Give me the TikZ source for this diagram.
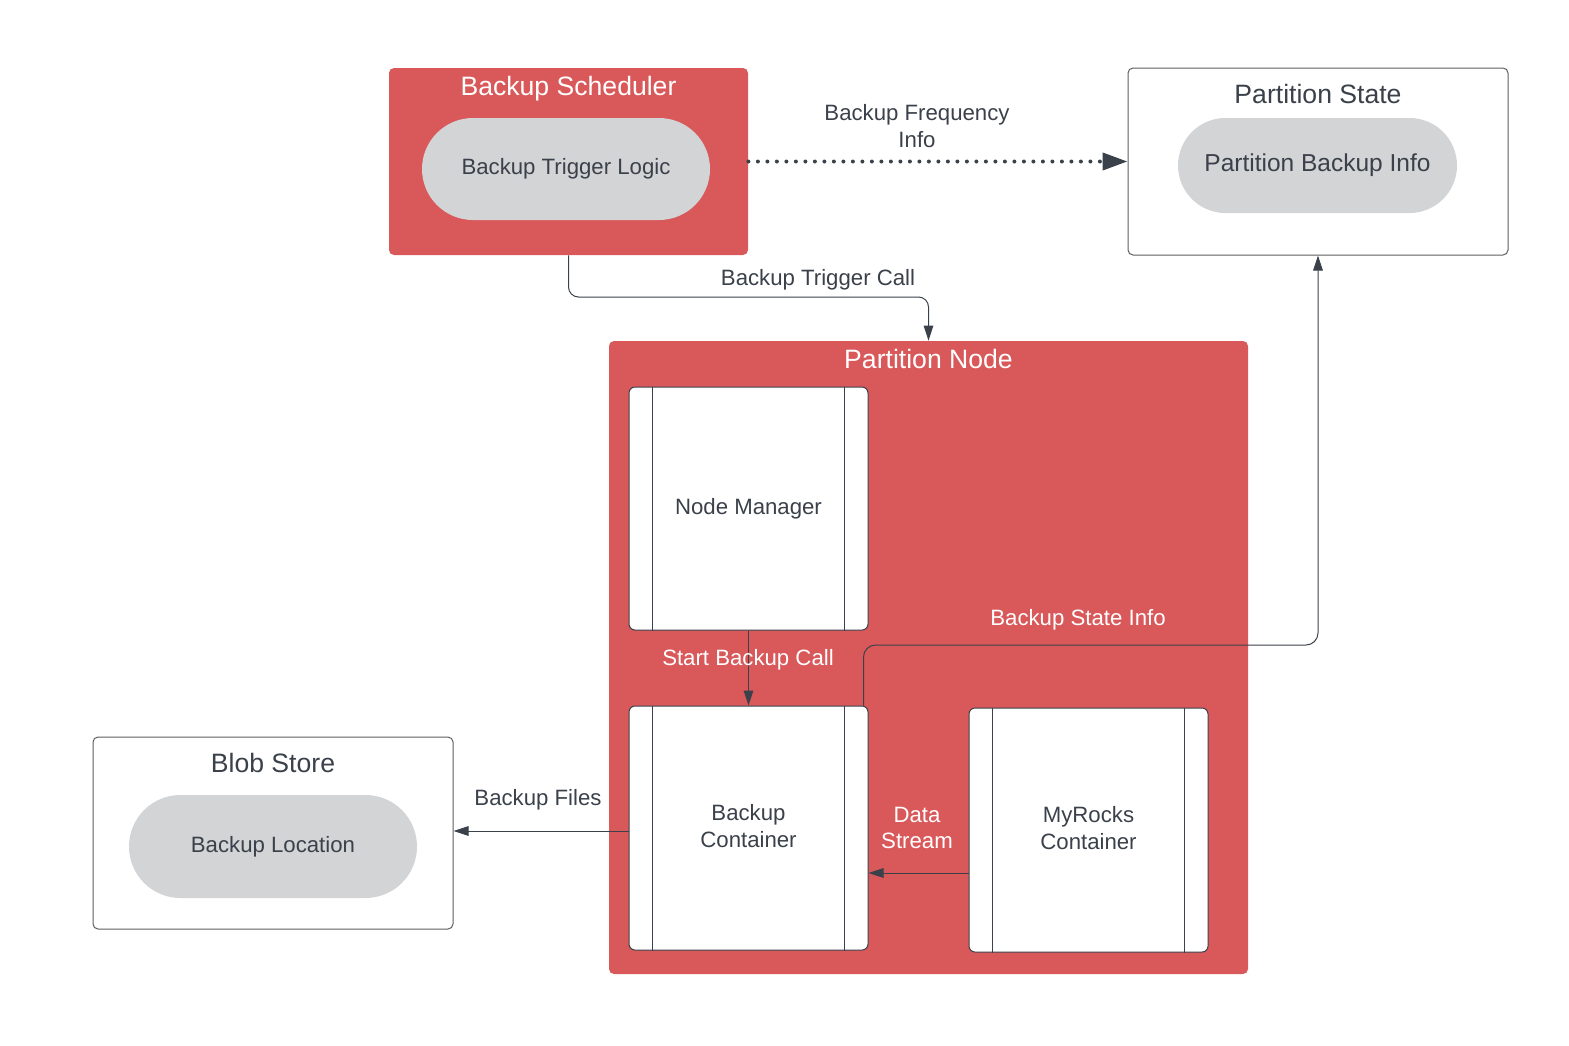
\documentclass[tikz,border=0pt]{standalone}
\usepackage{fontspec}
\setmainfont{Liberation Sans}
\usetikzlibrary{arrows.meta,calc}
\definecolor{lred}{HTML}{D9585A}
\definecolor{pill}{HTML}{D3D4D6}
\definecolor{ink}{HTML}{3A414A}
\definecolor{edge}{HTML}{5E5E5E}
\tikzset{
  redbox/.style={draw=none,fill=lred,rounded corners=2.5pt,inner sep=0pt},
  whitebox/.style={draw=edge,line width=0.5pt,fill=white,rounded corners=2.5pt,inner sep=0pt},
  procbox/.style={draw=ink,line width=0.5pt,fill=white,rounded corners=3pt,inner sep=0pt,
    minimum width=119.5pt,font=\fontsize{11.1pt}{13.3pt}\selectfont,text=ink,align=center},
  pillbox/.style={fill=pill,draw=none,inner sep=0pt,text=ink,align=center},
  titlew/.style={text=white,font=\fontsize{13.3pt}{16pt}\selectfont,inner sep=0pt},
  titled/.style={text=ink,font=\fontsize{13.3pt}{16pt}\selectfont,inner sep=0pt},
  lbl/.style={text=ink,font=\fontsize{11.1pt}{13.4pt}\selectfont,align=center,inner sep=0pt},
  lblw/.style={text=white,font=\fontsize{11.1pt}{13.4pt}\selectfont,align=center,inner sep=0pt},
  conn/.style={draw=ink,line width=0.5pt,-{Triangle[length=7.5pt,width=4.8pt]}},
}
\begin{document}
\begin{tikzpicture}[x=0.5pt,y=-0.5pt]
\useasboundingbox (0,0) rectangle (1569,1045);
% containers
\node[redbox,minimum width=179.5pt,minimum height=93.5pt] (bs) at (568.5,161.5) {};
\node[whitebox,minimum width=190pt,minimum height=93.5pt] (ps) at (1318,161.5) {};
\node[redbox,minimum width=319.5pt,minimum height=316.5pt] (pn) at (928.5,657.5) {};
\node[whitebox,minimum width=180pt,minimum height=96pt] (blob) at (273,833) {};
% titles
\node[titlew] (bst) at (568.5,89) {Backup Scheduler};
\node[titled] (pst) at (1318,94) {Partition State};
\node[titlew] (pnt) at (928.5,359) {Partition Node};
\node[titled] (blt) at (273,763) {Blob Store};
% pills
\node[pillbox,rounded corners=25.5pt,minimum width=144pt,minimum height=51pt,
  font=\fontsize{11.1pt}{13.3pt}\selectfont] (btl) at (566,169) {Backup Trigger Logic};
\node[pillbox,rounded corners=23.75pt,minimum width=139.5pt,minimum height=47.5pt,
  font=\fontsize{12.25pt}{14.5pt}\selectfont] (pbi) at (1317.5,165.5) {Partition Backup Info};
\node[pillbox,rounded corners=25.75pt,minimum width=144pt,minimum height=51.5pt,
  font=\fontsize{11.1pt}{13.3pt}\selectfont] (bl) at (273,846.5) {Backup Location};
% process boxes
\node[procbox,minimum height=121.5pt] (nm) at (748.5,508.5) {Node Manager};
\node[procbox,minimum height=122pt] (bc) at (748.5,828) {\raisebox{2pt}{\shortstack{Backup\\Container}}};
\node[procbox,minimum height=122pt] (mr) at (1088.5,830) {\raisebox{2pt}{\shortstack{MyRocks\\Container}}};
\foreach \n in {nm,bc,mr}{
  \draw[ink,line width=0.5pt] ([xshift=12pt]\n.north west) -- ([xshift=12pt]\n.south west);
  \draw[ink,line width=0.5pt] ([xshift=-12pt]\n.north east) -- ([xshift=-12pt]\n.south east);
}
% connectors
\draw[ink,line width=2pt,line cap=round,dash pattern=on 0pt off 4.75pt,
  -{Triangle[length=12.5pt,width=8.5pt]}] (bs.east) -- (ps.west);
\node[lbl] (bfi) at (917,126) {Backup Frequency\\Info};

\draw[conn,rounded corners=5pt] (bs.south) -- (bs.south |- 0,297) -- (pn.north |- 0,297) -- (pn.north);
\node[lbl] (btc) at (818,280) {Backup Trigger Call};

\draw[conn] (nm.south) -- (bc.north);
\node[lblw] (sbc) at (748,660) {Start Backup Call};

\coordinate (bsi0) at ($(bc.north east)+(-2.5pt,0)$);
\draw[conn,rounded corners=6pt] (bsi0) -- (bsi0 |- 0,645) -- (ps.south |- 0,645) -- (ps.south);
\node[lblw] (bsi) at (1078,620) {Backup State Info};

\draw[conn] (mr.west |- 0,873) -- (bc.east |- 0,873);
\node[lblw] (ds) at (917,828) {Data\\Stream};

\draw[conn] (bc.west |- 0,831) -- (blob.east |- 0,831);
\node[lbl] (bf) at (538,800) {Backup Files};
\end{tikzpicture}
\end{document}
